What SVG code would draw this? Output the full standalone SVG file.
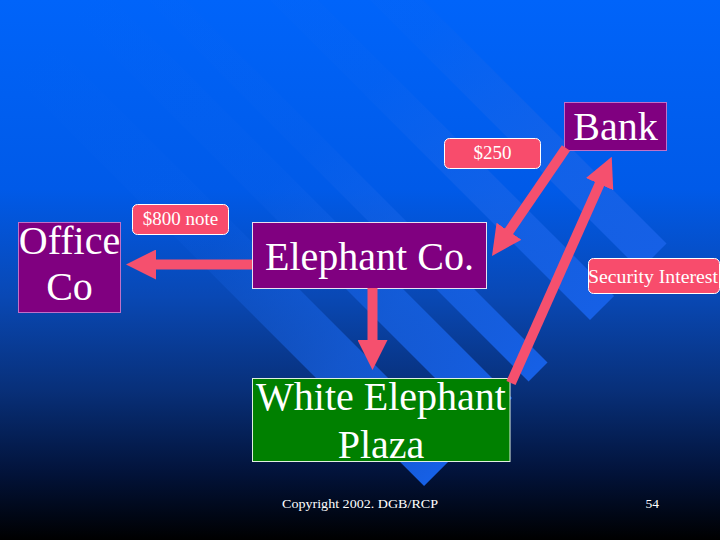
<svg xmlns="http://www.w3.org/2000/svg" width="720" height="540" viewBox="0 0 720 540">
<defs>
<linearGradient id="bg" x1="0" y1="0" x2="0" y2="1">
<stop offset="0" stop-color="#0064fa"/>
<stop offset="0.35" stop-color="#005ae8"/>
<stop offset="0.55" stop-color="#0948b4"/>
<stop offset="0.72" stop-color="#08307a"/>
<stop offset="0.88" stop-color="#021238"/>
<stop offset="1" stop-color="#000000"/>
</linearGradient>
<linearGradient id="stripe" x1="0" y1="0" x2="1" y2="0">
<stop offset="0" stop-color="#1c6cf0" stop-opacity="0"/>
<stop offset="0.45" stop-color="#1a68ec" stop-opacity="0.12"/>
<stop offset="0.75" stop-color="#1864e8" stop-opacity="0.7"/>
<stop offset="1" stop-color="#1660e6" stop-opacity="1"/>
</linearGradient>
<marker id="head" viewBox="0 0 30 30" markerUnits="userSpaceOnUse" markerWidth="30" markerHeight="30" refX="10" refY="15" orient="auto">
<path d="M0,0 L30,15 L0,30 z" fill="#f5506e"/>
</marker>
</defs>
<style>
.node{fill:#800080;stroke:#c070c8;stroke-width:1}
.green{fill:#008000;stroke:#e0f0e0;stroke-width:1}
.label{fill:#f84c6c;stroke:#ffffff;stroke-width:1}
.big{font-family:"Liberation Serif","Times New Roman",serif;font-size:40px;fill:#ffffff;text-anchor:middle}
.small{font-family:"Liberation Serif","Times New Roman",serif;font-size:19px;fill:#ffffff;text-anchor:middle}
.foot{font-family:"Liberation Serif","Times New Roman",serif;font-size:13.5px;fill:#ffffff}
.conn{stroke:#f5506e;stroke-width:10;fill:none;marker-end:url(#head)}
</style>
<rect x="0" y="0" width="720" height="540" fill="url(#bg)"/>
<g id="stripes" transform="rotate(45)">
<rect x="60" y="-7.1" width="583.5" height="50.9" fill="url(#stripe)"/>
<rect x="60" y="-80.6" width="583.5" height="40.3" fill="url(#stripe)"/>
<rect x="60" y="-130.8" width="583.5" height="26.8" fill="url(#stripe)"/>
<rect x="60" y="-224.9" width="583.5" height="34" fill="url(#stripe)"/>
<rect x="60" y="-299.1" width="583.5" height="37.5" fill="url(#stripe)"/>
</g>
<g id="office">
<rect class="node" x="18.5" y="222.5" width="102" height="90"/>
<text class="big" x="69.5" y="254">Office</text>
<text class="big" x="69.5" y="300">Co</text>
</g>
<g id="elephant">
<rect class="node" x="252.5" y="222.5" width="234" height="66" style="stroke:#e8e0f0"/>
<text class="big" x="369.5" y="270">Elephant Co.</text>
</g>
<g id="plaza">
<rect class="green" x="252.5" y="378.5" width="257.5" height="83"/>
<text class="big" x="381" y="410">White Elephant</text>
<text class="big" x="381" y="458">Plaza</text>
</g>
<g id="bank">
<rect class="node" x="564.5" y="102.5" width="102" height="48"/>
<text class="big" x="615.5" y="140">Bank</text>
</g>
<g id="connectors">
<line class="conn" x1="252" y1="264.5" x2="146" y2="264.5"/>
<line class="conn" x1="372.5" y1="288" x2="372.5" y2="350"/>
<line class="conn" x1="566" y1="148" x2="503.3" y2="239.5"/>
<line class="conn" x1="511" y1="383" x2="603.6" y2="175"/>
</g>
<g id="label800">
<rect class="label" x="132.5" y="204.5" width="96" height="30" rx="5"/>
<text class="small" x="180.5" y="225">$800 note</text>
</g>
<g id="label250">
<rect class="label" x="444.5" y="138.5" width="96" height="30" rx="5"/>
<text class="small" x="492.5" y="159">$250</text>
</g>
<g id="labelsec">
<rect class="label" x="588.5" y="258.5" width="131" height="35" rx="5"/>
<text class="small" x="653" y="283" textLength="130" lengthAdjust="spacingAndGlyphs">Security Interest</text>
</g>
<text class="foot" x="282" y="508" textLength="156" lengthAdjust="spacingAndGlyphs">Copyright 2002. DGB/RCP</text>
<text class="foot" x="645.5" y="508">54</text>
</svg>
